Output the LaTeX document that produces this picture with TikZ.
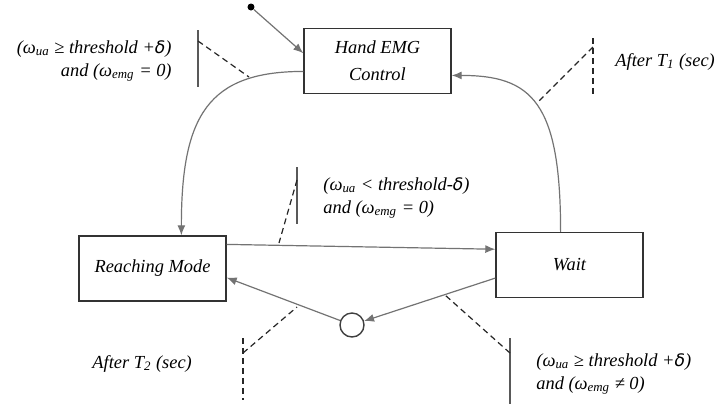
\documentclass[tikz,border=0pt]{standalone}
\usepackage{fontspec}
\setmainfont{Liberation Serif}
\newfontfamily\dejavu{DejaVu Sans}
\usetikzlibrary{arrows.meta}
\tikzset{>={Latex[length=5pt,width=4pt]}}
\newcommand{\dlt}{{\dejavu\fontsize{8.6}{8.6}\selectfont δ}}

\begin{document}
\begin{tikzpicture}[x=0.5pt, y=-0.5pt,
    state/.style={draw=black!80, line width=0.7pt, minimum width=73.5pt, minimum height=32.5pt,
      align=center, font={\fontsize{9.2}{13.5}\selectfont\itshape}},
    trans/.style={draw=black!55, line width=0.6pt},
    bar/.style={draw=black!65, line width=1pt},
    guard/.style={draw=black!85, line width=0.6pt, dash pattern=on 3pt off 2pt},
    txt/.style={inner sep=0pt, font={\fontsize{9.2}{11.5}\selectfont\itshape}}]
    \useasboundingbox (0,0) rectangle (720,404);

    % states
    \node[state] (hand) at (377.5,61) {Hand EMG\\Control};
    \node[state] (reach) at (152.5,268.5) {Reaching Mode};
    \node[state] (wait) at (569.5,265) {Wait};
    \node[circle, draw=black!75, line width=0.7pt, minimum size=12pt, inner sep=0pt] (choice) at (352,325) {};
    \node[circle, fill=black, inner sep=0pt, minimum size=3.5pt] (init) at (251,7) {};

    % transitions
    \draw[trans,->] (init) -- (hand.174);
    \draw[trans,->] (hand.188) .. controls +(-95,0) and +(0,-120) .. (reach.49);
    \draw[trans,->] (reach.18) -- (wait.168);
    \draw[trans,->] (wait.105) .. controls +(0,-130) and +(80,0) .. (hand.349);
    \draw[trans,->] (wait.190) -- (choice);
    \draw[trans,->] (choice) -- (reach.-7);

    % guards
    \draw[bar] (198,30) -- (198,87);
    \draw[guard] (198,41) -- (249,77);
    \node[txt, anchor=east, align=right] (g1) at (172,61) {(ω\textsubscript{ua} ≥ threshold +\dlt)\\and (ω\textsubscript{emg} = 0)};

    \draw[guard] (593,38) -- (593,95);
    \draw[guard] (593,47) -- (537,103);
    \node[txt, anchor=west] (t1) at (615,62) {After T\textsubscript{1} (sec)};

    \draw[bar] (297,167) -- (297,224);
    \draw[guard] (297,180) -- (279,243);
    \node[txt, anchor=west, align=left] (g2) at (323,197.5) {(ω\textsubscript{ua} < threshold-\dlt)\\and (ω\textsubscript{emg} = 0)};

    \draw[guard] (243,338) -- (243,400);
    \draw[guard] (243,353) -- (297,307);
    \node[txt, anchor=west] (t2) at (92,364) {After T\textsubscript{2} (sec)};

    \draw[bar] (510,338) -- (510,404);
    \draw[guard] (510,353) -- (445,295);
    \node[txt, anchor=west, align=left] (g3) at (536,373.5) {(ω\textsubscript{ua} ≥ threshold +\dlt)\\and (ω\textsubscript{emg} ≠ 0)};
\end{tikzpicture}
\end{document}
